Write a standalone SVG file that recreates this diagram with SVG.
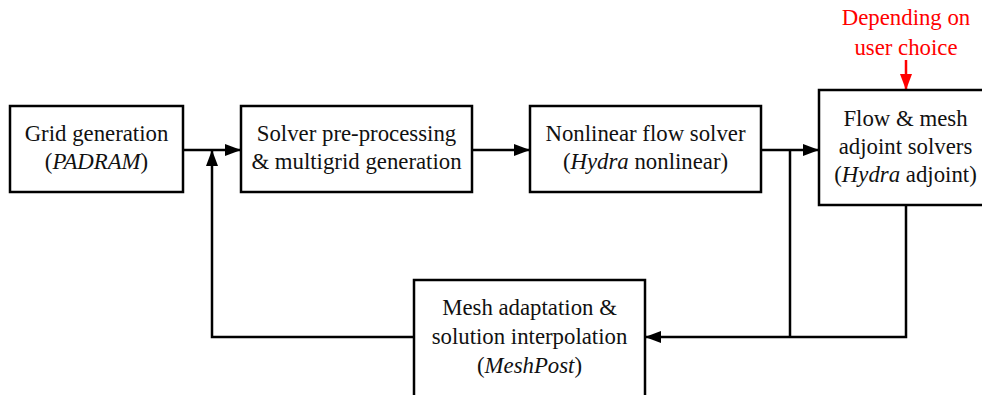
<svg xmlns="http://www.w3.org/2000/svg" width="982" height="395" viewBox="0 0 982 395">
<style>
.box{fill:#fff;stroke:#000;stroke-width:2.5}
.t{font-family:"Liberation Serif","DejaVu Serif",serif;font-size:22.8px;fill:#111;text-anchor:middle}
.i{font-style:italic}
.c{fill:none;stroke:#000;stroke-width:2.5}
.r{fill:none;stroke:#f00;stroke-width:2.5}
.rt{font-family:"Liberation Serif","DejaVu Serif",serif;font-size:22.8px;fill:#f00;text-anchor:middle}
</style>
<defs>
<marker id="ah" markerWidth="16" markerHeight="12" refX="15" refY="6" orient="auto" markerUnits="userSpaceOnUse"><path d="M0,0 L16,6 L0,12 Z" fill="#000"/></marker>
<marker id="ahr" markerWidth="16" markerHeight="12" refX="15" refY="6" orient="auto" markerUnits="userSpaceOnUse"><path d="M0,0 L16,6 L0,12 Z" fill="#f00"/></marker>
</defs>
<g id="connectors">
<path class="c" d="M183,150 H240" marker-end="url(#ah)"/>
<path class="c" d="M414,337 H212 V151" marker-end="url(#ah)"/>
<path class="c" d="M472,150 H529" marker-end="url(#ah)"/>
<path class="c" d="M761,150 H818" marker-end="url(#ah)"/>
<path class="c" d="M790,150 V337"/>
<path class="c" d="M906,205 V337 H646" marker-end="url(#ah)"/>
<path class="r" d="M906,60 V89" marker-end="url(#ahr)"/>
</g>
<g id="grid">
<rect class="box" x="10" y="106" width="173" height="86"/>
<text class="t" x="96.5" y="141">Grid generation</text>
<text class="t" x="96.5" y="169">(<tspan class="i">PADRAM</tspan>)</text>
</g>
<g id="preproc">
<rect class="box" x="241" y="106" width="231" height="86"/>
<text class="t" x="356.5" y="141">Solver pre-processing</text>
<text class="t" x="356.5" y="169">&amp; multigrid generation</text>
</g>
<g id="nonlinear">
<rect class="box" x="530" y="106" width="231" height="86"/>
<text class="t" x="645.5" y="141">Nonlinear flow solver</text>
<text class="t" x="645.5" y="169">(<tspan class="i">Hydra</tspan> nonlinear)</text>
</g>
<g id="adjoint">
<rect class="box" x="819" y="90" width="175" height="115"/>
<text class="t" x="905.5" y="126">Flow &amp; mesh</text>
<text class="t" x="905.5" y="154">adjoint solvers</text>
<text class="t" x="905.5" y="182">(<tspan class="i">Hydra</tspan> adjoint)</text>
</g>
<g id="meshadapt">
<rect class="box" x="414" y="280" width="231" height="125"/>
<text class="t" x="529.5" y="315">Mesh adaptation &amp;</text>
<text class="t" x="529.5" y="344">solution interpolation</text>
<text class="t" x="529.5" y="373">(<tspan class="i">MeshPost</tspan>)</text>
</g>
<g id="note">
<text class="rt" x="906" y="25">Depending on</text>
<text class="rt" x="906" y="55">user choice</text>
</g>
</svg>
